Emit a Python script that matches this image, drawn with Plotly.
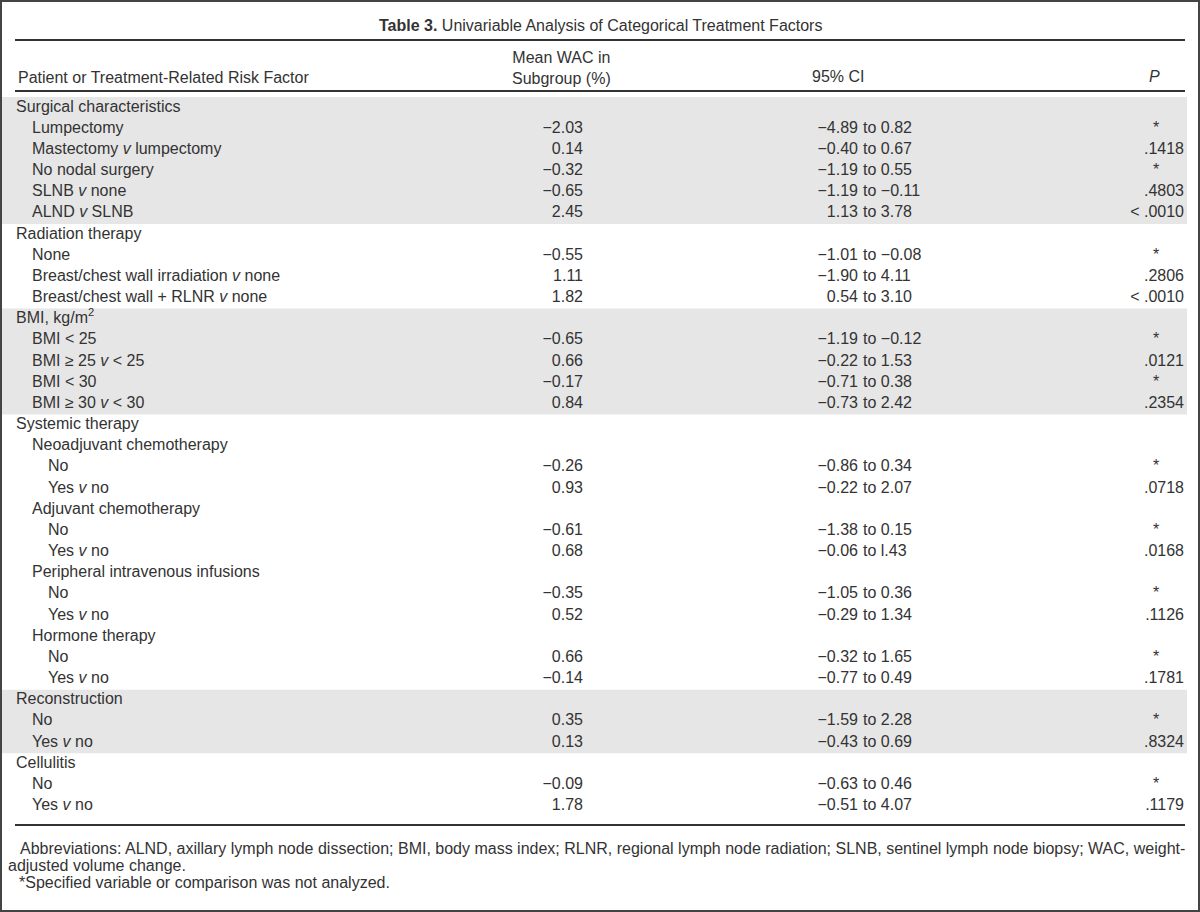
import plotly.graph_objects as go

# ---------------- data ----------------
title_bold = "Table 3."
title_text = "Univariable Analysis of Categorical Treatment Factors"
col_headers = ["Patient or Treatment-Related Risk Factor", "Mean WAC in<br>Subgroup (%)", "95% CI", "<i>P</i>"]

labels = [
    "Surgical characteristics", "Lumpectomy", "Mastectomy <i>v</i> lumpectomy", "No nodal surgery",
    "SLNB <i>v</i> none", "ALND <i>v</i> SLNB",
    "Radiation therapy", "None", "Breast/chest wall irradiation <i>v</i> none",
    "Breast/chest wall + RLNR <i>v</i> none",
    "BMI, kg/m<sup>2</sup>", "BMI &lt; 25", "BMI ≥ 25 <i>v</i> &lt; 25", "BMI &lt; 30", "BMI ≥ 30 <i>v</i> &lt; 30",
    "Systemic therapy", "Neoadjuvant chemotherapy", "No", "Yes <i>v</i> no",
    "Adjuvant chemotherapy", "No", "Yes <i>v</i> no",
    "Peripheral intravenous infusions", "No", "Yes <i>v</i> no",
    "Hormone therapy", "No", "Yes <i>v</i> no",
    "Reconstruction", "No", "Yes <i>v</i> no",
    "Cellulitis", "No", "Yes <i>v</i> no",
]
levels = [0, 1, 1, 1, 1, 1,
          0, 1, 1, 1,
          0, 1, 1, 1, 1,
          0, 1, 2, 2, 1, 2, 2, 1, 2, 2, 1, 2, 2,
          0, 1, 1,
          0, 1, 1]
mean_wac = ["", "−2.03", "0.14", "−0.32", "−0.65", "2.45",
            "", "−0.55", "1.11", "1.82",
            "", "−0.65", "0.66", "−0.17", "0.84",
            "", "", "−0.26", "0.93", "", "−0.61", "0.68", "", "−0.35", "0.52", "", "0.66", "−0.14",
            "", "0.35", "0.13",
            "", "−0.09", "1.78"]
ci_low = ["", "−4.89", "−0.40", "−1.19", "−1.19", "1.13",
          "", "−1.01", "−1.90", "0.54",
          "", "−1.19", "−0.22", "−0.71", "−0.73",
          "", "", "−0.86", "−0.22", "", "−1.38", "−0.06", "", "−1.05", "−0.29", "", "−0.32", "−0.77",
          "", "−1.59", "−0.43",
          "", "−0.63", "−0.51"]
ci_high = ["", "0.82", "0.67", "0.55", "−0.11", "3.78",
           "", "−0.08", "4.11", "3.10",
           "", "−0.12", "1.53", "0.38", "2.42",
           "", "", "0.34", "2.07", "", "0.15", "l.43", "", "0.36", "1.34", "", "1.65", "0.49",
           "", "2.28", "0.69",
           "", "0.46", "4.07"]
p_values = ["", "*", ".1418", "*", ".4803", "&lt; .0010",
            "", "*", ".2806", "&lt; .0010",
            "", "*", ".0121", "*", ".2354",
            "", "", "*", ".0718", "", "*", ".0168", "", "*", ".1126", "", "*", ".1781",
            "", "*", ".8324",
            "", "*", ".1179"]
shaded_groups = [(0, 5), (10, 14), (28, 30)]   # row index ranges with gray background

footnote_1 = ("Abbreviations: ALND, axillary lymph node dissection; BMI, body mass index; RLNR, regional lymph node "
              "radiation; SLNB, sentinel lymph node biopsy; WAC, weight-")
footnote_2 = "adjusted volume change."
footnote_3 = "*Specified variable or comparison was not analyzed."

# ---------------- layout constants ----------------
W, H = 1200, 912
ROW0, ROWH = 107.5, 21.17
X_LABEL, INDENT = 16, 16
X_MEAN_R = 583
X_CI_SPLIT_L, X_CI_SPLIT_R = 858, 863
X_P_R, X_STAR = 1184, 1156
RULE_X0, RULE_X1 = 15, 1185
TXT = "#333333"
FONT = "Liberation Sans, Arial, Helvetica, sans-serif"
FS = 16

n = len(labels)
row_y = [ROW0 + i * ROWH for i in range(n)]

fig = go.Figure()

def text_trace(xs, ys, texts, pos):
    fig.add_trace(go.Scatter(
        x=xs, y=ys, text=texts, mode="text", textposition=pos,
        textfont=dict(family=FONT, size=FS, color=TXT),
        hoverinfo="skip", showlegend=False, cliponaxis=False))

# labels
text_trace([X_LABEL + INDENT * lv for lv in levels], row_y, labels, "middle right")
# mean
idx = [i for i in range(n) if mean_wac[i]]
text_trace([X_MEAN_R] * len(idx), [row_y[i] for i in idx], [mean_wac[i] for i in idx], "middle left")
# CI
idx = [i for i in range(n) if ci_low[i]]
text_trace([X_CI_SPLIT_L] * len(idx), [row_y[i] for i in idx], [ci_low[i] for i in idx], "middle left")
text_trace([X_CI_SPLIT_R] * len(idx), [row_y[i] for i in idx], ["to " + ci_high[i] for i in idx], "middle right")
# P
idx = [i for i in range(n) if p_values[i] and p_values[i] != "*"]
text_trace([X_P_R] * len(idx), [row_y[i] for i in idx], [p_values[i] for i in idx], "middle left")
idx = [i for i in range(n) if p_values[i] == "*"]
text_trace([X_STAR] * len(idx), [row_y[i] for i in idx], [p_values[i] for i in idx], "middle center")

shapes = []
for a, b in shaded_groups:
    shapes.append(dict(type="rect", xref="x", yref="y", x0=2, x1=1187,
                       y0=row_y[a] - ROWH / 2, y1=row_y[b] + ROWH / 2,
                       fillcolor="#e6e6e6", line=dict(width=0), layer="below"))
for yy in (40, 91, 825):
    shapes.append(dict(type="line", xref="x", yref="y", x0=RULE_X0, x1=RULE_X1, y0=yy, y1=yy,
                       line=dict(color="#333333", width=2)))
shapes.append(dict(type="rect", xref="paper", yref="paper", x0=0, x1=1, y0=0, y1=1,
                   line=dict(color="#444444", width=4), fillcolor="rgba(0,0,0,0)"))

ann = []
def A(x, y, t, xa, size=FS, ya="middle"):
    ann.append(dict(x=x, y=y, xref="x", yref="y", text=t, showarrow=False, xanchor=xa, yanchor=ya,
                    font=dict(family=FONT, size=size, color=TXT), align="center"))

A(600, 25, "<b>" + title_bold + "</b> " + title_text, "center")
A(X_LABEL, 77, col_headers[0], "left")
A(561, 67.5, col_headers[1], "center")
A(838, 76, col_headers[2], "center")
A(1154, 76, col_headers[3], "center")
A(18, 848, footnote_1, "left", size=16)
A(6, 865, footnote_2, "left", size=16)
A(17, 882, footnote_3, "left", size=16)

fig.update_layout(
    width=W, height=H, margin=dict(l=0, r=0, t=0, b=0),
    paper_bgcolor="white", plot_bgcolor="white",
    xaxis=dict(range=[0, W], visible=False, fixedrange=True),
    yaxis=dict(range=[H, 0], visible=False, fixedrange=True),
    shapes=shapes, annotations=ann,
)
fig.write_html("out.html", config={"displayModeBar": False},
               post_script="document.body.style.margin='0px';document.body.style.overflow='hidden';")
